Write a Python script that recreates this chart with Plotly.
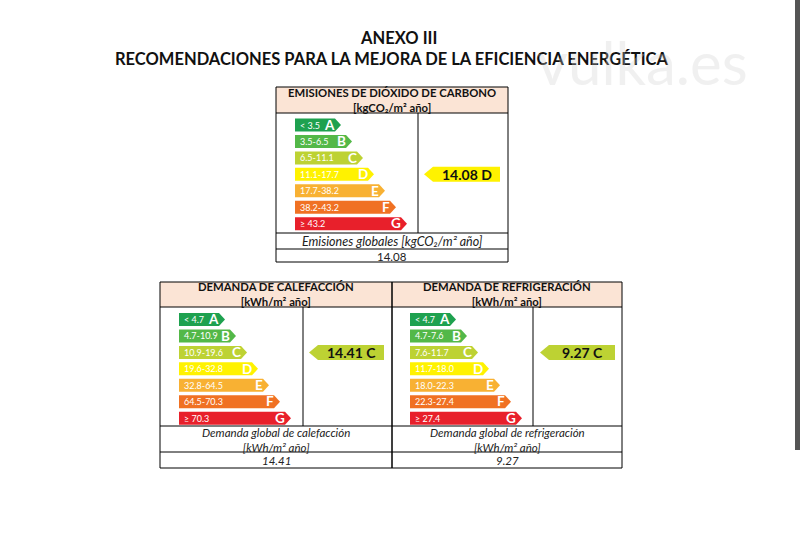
import plotly.graph_objects as go

# ---------------- data ----------------
letters = ["A", "B", "C", "D", "E", "F", "G"]
co2_ranges = ["< 3.5", "3.5-6.5", "6.5-11.1", "11.1-17.7", "17.7-38.2", "38.2-43.2", "≥ 43.2"]
heat_ranges = ["< 4.7", "4.7-10.9", "10.9-19.6", "19.6-32.8", "32.8-64.5", "64.5-70.3", "≥ 70.3"]
cool_ranges = ["< 4.7", "4.7-7.6", "7.6-11.7", "11.7-18.0", "18.0-22.3", "22.3-27.4", "≥ 27.4"]
panel_titles = ["EMISIONES DE DIÓXIDO DE CARBONO", "DEMANDA DE CALEFACCIÓN", "DEMANDA DE REFRIGERACIÓN"]
panel_units = ["[kgCO₂/m² año]", "[kWh/m² año]", "[kWh/m² año]"]
panel_labels = ["<i>Emisiones globales [kgCO₂/m² año]</i>",
                "<i>Demanda global de calefacción<br>[kWh/m² año]</i>",
                "<i>Demanda global de refrigeración<br>[kWh/m² año]</i>"]
panel_values = [14.08, 14.41, 9.27]
panel_ratings = ["D", "C", "C"]
panel_value_text = ["14.08", "<i>14.41</i>", "<i>9.27</i>"]
panel_ranges = [co2_ranges, heat_ranges, cool_ranges]
title_line1 = "ANEXO III"
title_line2 = "RECOMENDACIONES PARA LA MEJORA DE LA EFICIENCIA ENERGÉTICA"
watermark = "vulka.es"

# ---------------- style ----------------
colors = ["#1ea14f", "#53b848", "#bdd233", "#fff200", "#f8b133", "#f07123", "#e8202b"]
FONT = "Lato"
header_bg = "#fbe4d5"

# geometry of each panel (pixel layout)
geo = [
    dict(l=276, r=508, top=87, hb=113, div=418, bb=233, lb=249, b=262, bx=295, c0=125.0, vx=424, vr=500, lab=12.5),
    dict(l=160, r=392, top=282, hb=307, div=303, bb=426, lb=452, b=468, bx=179, c0=319.5, vx=309, vr=384, lab=11.5),
    dict(l=392, r=622, top=282, hb=307, div=533, bb=426, lb=452, b=468, bx=410, c0=319.5, vx=540, vr=615, lab=11.5),
]
pitch = 16.45
bh = 13.0
base_w = 40
step = 11
tip = 6

fig = go.Figure()
fig.add_trace(go.Scatter(x=[0, 800], y=[0, 549], mode="markers", marker=dict(opacity=0), hoverinfo="skip", showlegend=False))

shapes = []
ann = []

def line(x0, y0, x1, y1, w=1, c="black"):
    shapes.append(dict(type="line", xref="x", yref="y", x0=x0, y0=y0, x1=x1, y1=y1, line=dict(color=c, width=w)))

for p, g in enumerate(geo):
    # header background
    shapes.append(dict(type="rect", xref="x", yref="y", x0=g["l"], y0=g["top"], x1=g["r"], y1=g["hb"],
                       fillcolor=header_bg, line=dict(width=0), layer="below"))
    # borders
    line(g["l"], g["top"], g["r"], g["top"])
    line(g["l"], g["b"], g["r"], g["b"])
    line(g["l"], g["top"], g["l"], g["b"])
    line(g["r"], g["top"], g["r"], g["b"])
    line(g["l"], g["hb"], g["r"], g["hb"])
    line(g["l"], g["bb"], g["r"], g["bb"])
    line(g["l"], g["lb"], g["r"], g["lb"])
    line(g["div"], g["hb"], g["div"], g["bb"])

    # header text
    ann.append(dict(x=(g["l"] + g["r"]) / 2, y=(g["top"] + g["hb"]) / 2 - 0.5,
                    text="<b>" + panel_titles[p] + "<br>" + panel_units[p] + "</b>",
                    font=dict(family=FONT, size=11.3, color="#111")))

    # scale bars
    for i, (let, rng) in enumerate(zip(letters, panel_ranges[p])):
        yc = g["c0"] + i * pitch
        yt, yb = yc - bh / 2, yc + bh / 2
        xr = g["bx"] + base_w + i * step
        path = f"M {g['bx']},{yt} L {xr},{yt} L {xr + tip},{yc} L {xr},{yb} L {g['bx']},{yb} Z"
        shapes.append(dict(type="path", xref="x", yref="y", path=path, fillcolor=colors[i], line=dict(width=0)))
        ann.append(dict(x=g["bx"] + 3, y=yc, text=rng, xanchor="left",
                        font=dict(family=FONT, size=9, color="white")))
        ann.append(dict(x=xr + 1.5, y=yc - 0.3, text="<b>" + let + "</b>", xanchor="right",
                        font=dict(family=FONT, size=13.5, color="white")))

    # value indicator
    k = letters.index(panel_ratings[p])
    yc = g["c0"] + k * pitch
    yt, yb = yc - 7.5, yc + 7.5
    path = f"M {g['vx']},{yc} L {g['vx'] + 9},{yt} L {g['vr']},{yt} L {g['vr']},{yb} L {g['vx'] + 9},{yb} Z"
    shapes.append(dict(type="path", xref="x", yref="y", path=path, fillcolor=colors[k], line=dict(width=0)))
    ann.append(dict(x=(g["vx"] + g["vr"]) / 2 + 5, y=yc, text=f"<b>{panel_values[p]:.2f} {panel_ratings[p]}</b>",
                    font=dict(family=FONT, size=14, color="#111")))

    # label row & value row
    ann.append(dict(x=(g["l"] + g["r"]) / 2, y=(g["bb"] + g["lb"]) / 2 + 0.5, text=panel_labels[p],
                    font=dict(family=FONT, size=g["lab"], color="#222")))
    ann.append(dict(x=(g["l"] + g["r"]) / 2, y=(g["lb"] + g["b"]) / 2 + 0.8, text=panel_value_text[p],
                    font=dict(family=FONT, size=11.5, color="#222")))

# titles (one block, two lines)
ann.append(dict(x=391, y=48.5,
                text="<b>" + "&nbsp;" * 4 + title_line1 + "<br>" + title_line2 + "</b>",
                font=dict(family=FONT, size=16.5, color="#111")))
# watermark
ann.append(dict(x=642, y=62, text=watermark, font=dict(family=FONT, size=60, color="rgba(205,205,205,0.3)")))

# dark edge on right
shapes.append(dict(type="rect", xref="x", yref="y", x0=795, y0=0, x1=800, y1=450,
                   fillcolor="#555555", line=dict(width=0)))

for a in ann:
    a.update(xref="x", yref="y", showarrow=False)
    a.setdefault("xanchor", "center")
    a.setdefault("yanchor", "middle")

fig.update_layout(
    width=800, height=549, margin=dict(l=0, r=0, t=0, b=0),
    paper_bgcolor="white", plot_bgcolor="white",
    xaxis=dict(range=[0, 800], visible=False, fixedrange=True),
    yaxis=dict(range=[549, 0], visible=False, fixedrange=True),
    shapes=shapes, annotations=ann, showlegend=False,
)
fig.write_html("out.html")
